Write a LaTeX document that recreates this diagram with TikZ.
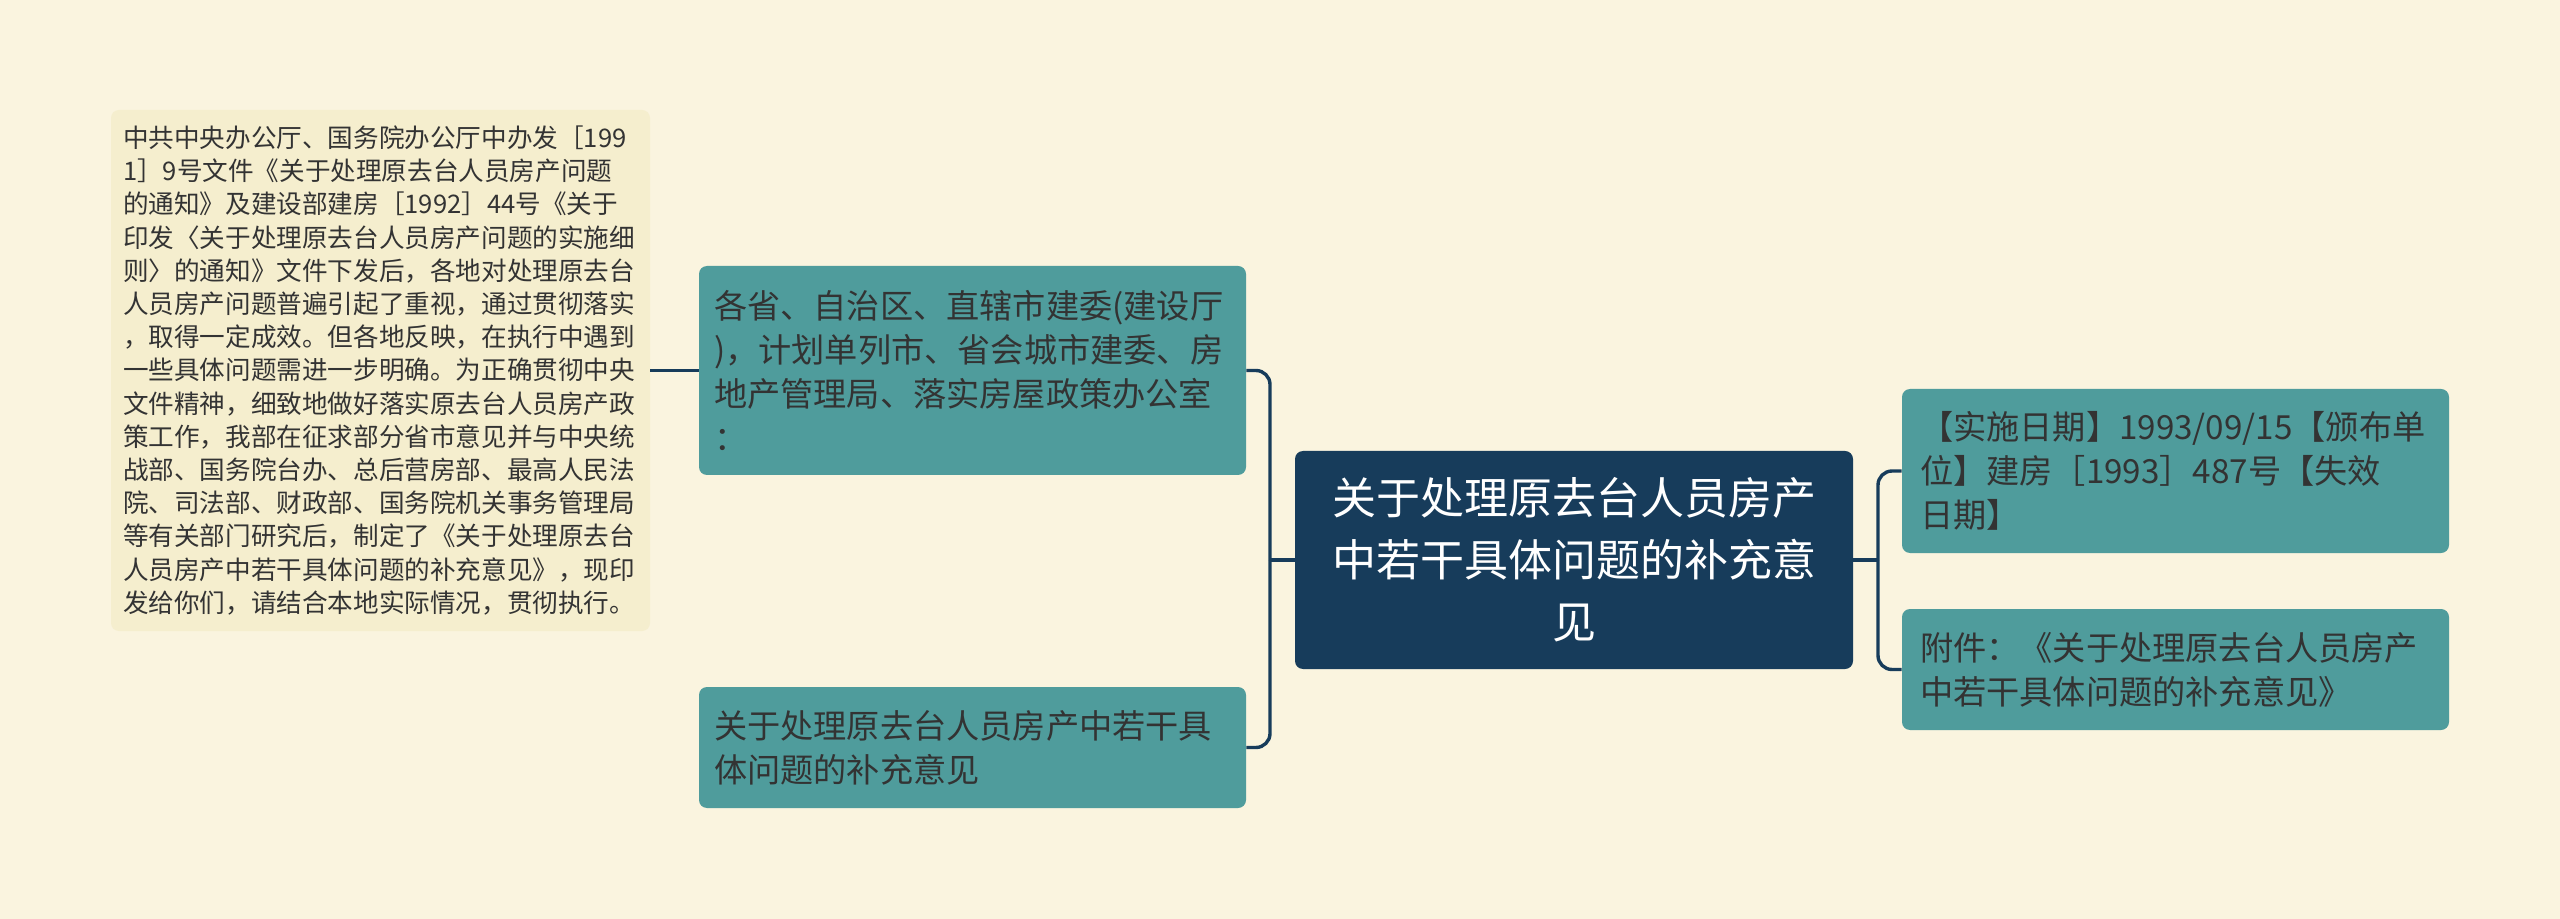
\documentclass[tikz,border=0pt]{standalone}
\usepackage{fontspec}
\setmainfont{Noto Sans CJK SC}
\definecolor{bgcream}{HTML}{FAF4DF}
\definecolor{notefill}{HTML}{F5EECE}
\definecolor{tealfill}{HTML}{4F9C9C}
\definecolor{navy}{HTML}{173C5B}
\definecolor{inkgray}{HTML}{333333}
\begin{document}
\begin{tikzpicture}[
    x=0.5pt,
    y=-0.5pt,
    box/.style={
        rounded corners=4pt,
        inner ysep=0pt,
        align=left
    },
    topic/.style={
        box,
        fill=navy,
        text=white,
        align=center,
        inner xsep=8pt,
        text width=263pt,
        minimum height=109pt,
        font={\fontsize{22pt}{31pt}\selectfont}
    },
    branch/.style={
        box,
        fill=tealfill,
        text=inkgray,
        inner xsep=7.5pt,
        text width=258.5pt,
        font={\fontsize{16.6pt}{22pt}\selectfont}
    },
    leaf/.style={
        branch,
        inner xsep=9pt,
        text width=255.5pt
    },
    note/.style={
        box,
        fill=notefill,
        text=inkgray,
        inner xsep=6pt,
        text width=257.5pt,
        minimum height=260.5pt,
        font={\fontsize{12.8pt}{16.6pt}\selectfont}
    },
    link/.style={
        draw=navy,
        line width=1.7pt,
        rounded corners=7pt
    }
]

% background
\fill[bgcream] (0,0) rectangle (2560,919);

% central topic
\node[topic] (R) at (1574,560) {关于处理原去台人员房产\\中若干具体问题的补充意\\见};

% left branches
\node[branch, minimum height=104.5pt] (B1) at (972.5,370.5) {各省、自治区、直辖市建委(建设厅\\)，计划单列市、省会城市建委、房\\地产管理局、落实房屋政策办公室\\：};
\node[branch, minimum height=60.5pt] (B2) at (972.5,747.5) {关于处理原去台人员房产中若干具\\体问题的补充意见};

% note on first branch
\node[note] (N) at (380.5,370.5) {中共中央办公厅、国务院办公厅中办发［199\\1］9号文件《关于处理原去台人员房产问题\\的通知》及建设部建房［1992］44号《关于\\印发〈关于处理原去台人员房产问题的实施细\\则〉的通知》文件下发后，各地对处理原去台\\人员房产问题普遍引起了重视，通过贯彻落实\\，取得一定成效。但各地反映，在执行中遇到\\一些具体问题需进一步明确。为正确贯彻中央\\文件精神，细致地做好落实原去台人员房产政\\策工作，我部在征求部分省市意见并与中央统\\战部、国务院台办、总后营房部、最高人民法\\院、司法部、财政部、国务院机关事务管理局\\等有关部门研究后，制定了《关于处理原去台\\人员房产中若干具体问题的补充意见》，现印\\发给你们，请结合本地实际情况，贯彻执行。};

% right branches
\node[leaf, minimum height=82pt] (C1) at (2175.5,471) {【实施日期】1993/09/15【颁布单\\位】建房［1993］487号【失效\\日期】};
\node[leaf, minimum height=60.5pt] (C2) at (2175.5,669.5) {附件：《关于处理原去台人员房产\\中若干具体问题的补充意见》};

% junctions
\coordinate (JL) at (1270,560);
\coordinate (JR) at (1878,560);

% left links
\draw[link] (R.west) -- (JL);
\draw[link] (JL) |- (B1.east);
\draw[link] (JL) |- (B2.east);
\draw[link] (N.east) -- (B1.west);

% right links
\draw[link] (R.east) -- (JR);
\draw[link] (JR) |- (C1.west);
\draw[link] (JR) |- (C2.west);

\end{tikzpicture}
\end{document}
